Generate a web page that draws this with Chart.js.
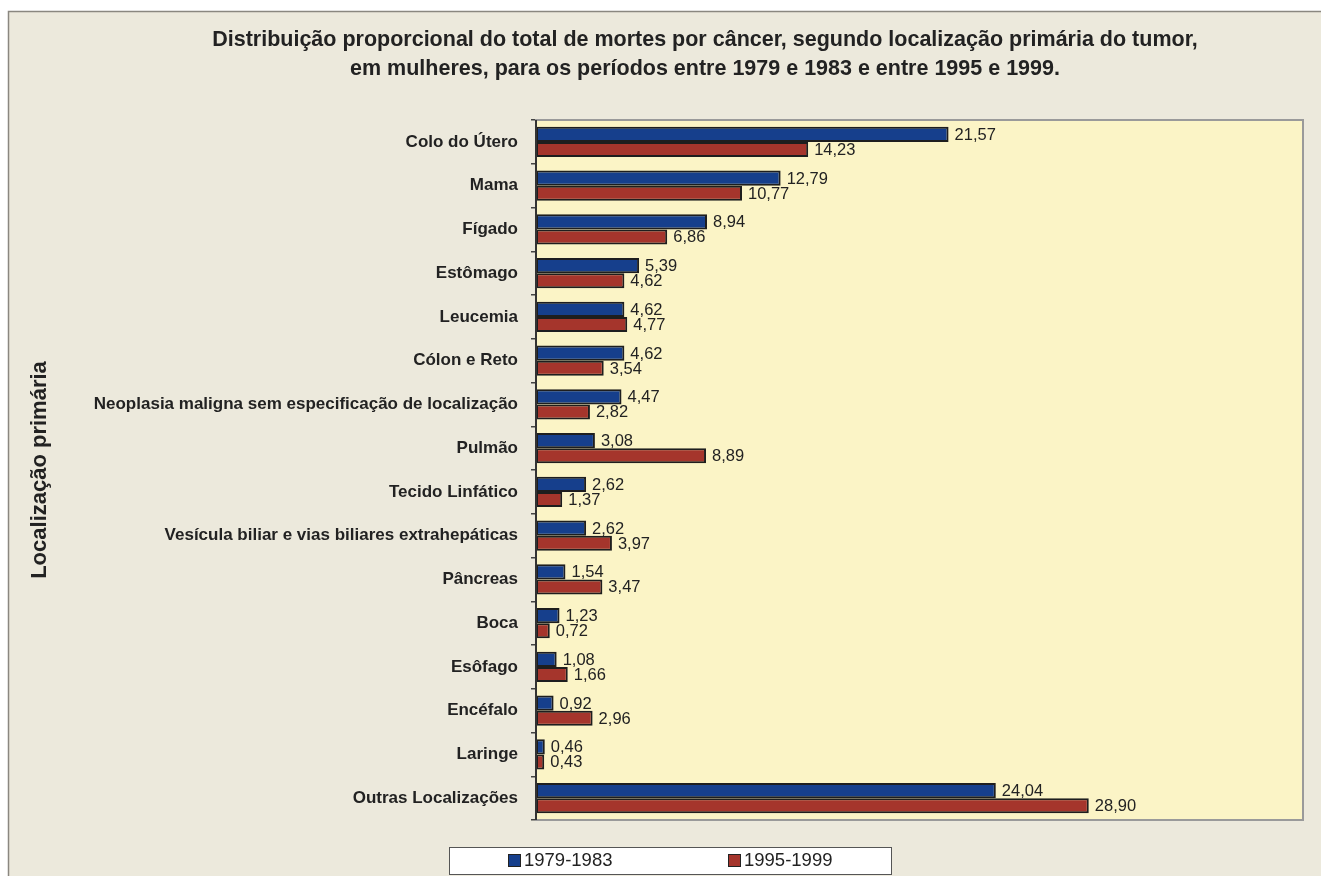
<!DOCTYPE html>
<html lang="pt">
<head>
  <meta charset="UTF-8">
  <title>Mortes por câncer em mulheres</title>
  <script src="https://cdn.jsdelivr.net/npm/chart.js"></script>
  <style>
    html, body { margin: 0; padding: 0; background: #ffffff; }
    canvas { display: block; }
  </style>
</head>
<body>
  <canvas id="cancerChart" width="1321" height="876"></canvas>

  <script>
    // Localização primária do tumor
    const categories = [
      'Colo do Útero', 'Mama', 'Fígado', 'Estômago', 'Leucemia', 'Cólon e Reto',
      'Neoplasia maligna sem especificação de localização', 'Pulmão', 'Tecido Linfático',
      'Vesícula biliar e vias biliares extrahepáticas', 'Pâncreas', 'Boca', 'Esôfago',
      'Encéfalo', 'Laringe', 'Outras Localizações'
    ];

    // % do total de mortes por câncer
    const period1979 = [21.57, 12.79, 8.94, 5.39, 4.62, 4.62, 4.47, 3.08, 2.62, 2.62, 1.54, 1.23, 1.08, 0.92, 0.46, 24.04];
    const period1995 = [14.23, 10.77, 6.86, 4.62, 4.77, 3.54, 2.82, 8.89, 1.37, 3.97, 3.47, 0.72, 1.66, 2.96, 0.43, 28.90];

    const seriesLabels = ['1979-1983', '1995-1999'];
    const seriesColors = ['#163f8c', '#a5352c'];

    const titleLines = [
      'Distribuição proporcional do total de mortes por câncer, segundo localização primária do tumor,',
      'em mulheres, para os períodos entre 1979 e 1983 e entre 1995 e 1999.'
    ];

    const fontFamily = '"Liberation Sans", Arial, sans-serif';
    const fmt = v => v.toFixed(2).replace('.', ',');

    // background, frame, plot area, title, labels and legend box
    const decor = {
      id: 'decor',
      beforeDraw(chart) {
        const c = chart.ctx, a = chart.chartArea;
        c.save();
        c.fillStyle = '#ece9dc';
        c.fillRect(8, 11, chart.width, chart.height);
        c.strokeStyle = '#8a8780';
        c.lineWidth = 1.5;
        c.strokeRect(8.5, 11.5, chart.width + 10, chart.height + 10);
        c.fillStyle = '#fbf4c6';
        c.fillRect(a.left, a.top, a.right - a.left, a.bottom - a.top);
        c.restore();
      },
      afterDatasetsDraw(chart) {
        const c = chart.ctx, a = chart.chartArea;
        c.save();
        // plot border
        c.strokeStyle = '#9a9a9a';
        c.lineWidth = 2;
        c.strokeRect(a.left, a.top, a.right - a.left, a.bottom - a.top);
        c.strokeStyle = '#333';
        c.lineWidth = 2;
        c.beginPath();
        c.moveTo(a.left, a.top);
        c.lineTo(a.left, a.bottom);
        c.stroke();

        // value labels
        c.font = '16.5px ' + fontFamily;
        c.fillStyle = '#222';
        c.textBaseline = 'middle';
        c.textAlign = 'left';
        chart.data.datasets.forEach((ds, i) => {
          chart.getDatasetMeta(i).data.forEach((bar, j) => {
            c.fillText(fmt(ds.data[j]), bar.x + 6, bar.y + 1);
          });
        });

        // title
        c.font = 'bold 21.5px ' + fontFamily;
        c.fillStyle = '#222';
        c.textAlign = 'center';
        c.fillText(titleLines[0], 705, 40);
        c.fillText(titleLines[1], 705, 69);

        // legend
        c.fillStyle = '#ffffff';
        c.fillRect(449, 847, 442, 27);
        c.strokeStyle = '#555';
        c.lineWidth = 1;
        c.strokeRect(449.5, 847.5, 442, 27);
        c.font = '18.5px ' + fontFamily;
        c.textAlign = 'left';
        const lx = [508, 728];
        seriesLabels.forEach((lab, i) => {
          c.fillStyle = seriesColors[i];
          c.fillRect(lx[i], 854, 12, 12);
          c.strokeStyle = '#222';
          c.strokeRect(lx[i] + 0.5, 854.5, 12, 12);
          c.fillStyle = '#222';
          c.fillText(lab, lx[i] + 16, 861);
        });
        c.restore();
      }
    };

    const ctx = document.getElementById('cancerChart').getContext('2d');
    const cancerChart = new Chart(ctx, {
      type: 'bar',
      data: {
        labels: categories,
        datasets: [
          {
            label: seriesLabels[0],
            data: period1979,
            backgroundColor: seriesColors[0],
            borderColor: '#1e1e1e',
            borderWidth: 2,
            borderSkipped: false
          },
          {
            label: seriesLabels[1],
            data: period1995,
            backgroundColor: seriesColors[1],
            borderColor: '#1e1e1e',
            borderWidth: 2,
            borderSkipped: false
          }
        ]
      },
      options: {
        indexAxis: 'y',
        responsive: false,
        animation: false,
        categoryPercentage: 0.69,
        barPercentage: 1.0,
        layout: {
          padding: { top: 120, right: 18, bottom: 56, left: 27 }
        },
        scales: {
          x: {
            display: false,
            min: 0,
            max: 40.1
          },
          y: {
            afterFit(scale) { scale.width = 509; },
            grid: {
              drawOnChartArea: false,
              tickLength: 5,
              lineWidth: 1.5,
              color: '#444',
              offset: true
            },
            border: { display: false },
            ticks: {
              padding: 13,
              color: '#222',
              font: { family: fontFamily, size: 17, weight: 'bold' }
            },
            title: {
              display: true,
              text: 'Localização primária',
              color: '#222',
              padding: { top: 0, bottom: 0 },
              font: { family: fontFamily, size: 22, weight: 'bold' }
            }
          }
        },
        plugins: {
          legend: { display: false },
          title: { display: false },
          tooltip: { enabled: false }
        }
      },
      plugins: [decor]
    });
  </script>
</body>
</html>
